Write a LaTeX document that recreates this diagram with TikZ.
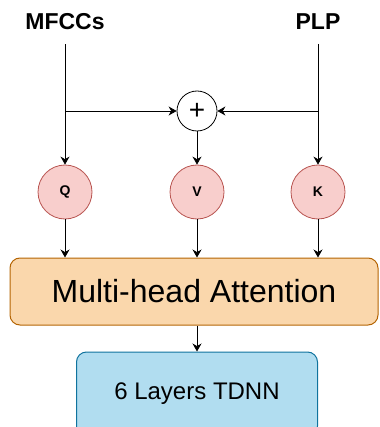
\documentclass[tikz,border=0pt]{standalone}
\usepackage{fontspec}
\setmainfont{Liberation Sans}
\usepackage{xcolor}
\usepackage{tikz}
\usetikzlibrary{positioning}
\usetikzlibrary{shapes,arrows.meta}
\definecolor{qkvfill}{HTML}{F8CECC}
\definecolor{qkvline}{HTML}{B85450}
\definecolor{attfill}{HTML}{FAD7AC}
\definecolor{attline}{HTML}{B46504}
\definecolor{tdnnfill}{HTML}{B1DDF0}
\definecolor{tdnnline}{HTML}{10739E}
\tikzstyle{inlabel} = [font=\bfseries\fontsize{23}{23}\selectfont, inner sep=0pt, outer ysep=14pt]
\tikzstyle{qkvnode} = [circle, draw=qkvline, fill=qkvfill, line width=0.8pt, minimum size=54pt, inner sep=0pt, font=\bfseries\fontsize{14}{14}\selectfont]
\tikzstyle{sumnode} = [circle, draw, line width=0.8pt, minimum size=40pt, inner sep=0pt, font=\fontsize{28}{28}\selectfont]
\tikzstyle{attbox} = [rectangle, rounded corners=10pt, draw=attline, fill=attfill, line width=1pt, minimum width=368pt, minimum height=67pt, font=\fontsize{32}{32}\selectfont]
\tikzstyle{tdnnbox} = [rectangle, rounded corners=10pt, draw=tdnnline, fill=tdnnfill, line width=1pt, minimum width=241pt, minimum height=84pt, font=\fontsize{24}{24}\selectfont]
\tikzstyle{flow} = [draw, line width=0.8pt, -{Stealth[length=8pt,width=9pt]}]

\begin{document}
\begin{tikzpicture}[x=1pt, y=-1pt]

\useasboundingbox (0,0) rectangle (379,427);

\node [inlabel] at (65,22) (mfcc) {MFCCs};
\node [inlabel] at (318,22) (plp) {PLP};

\node [sumnode] at (197,111) (plus) {+};
\coordinate (jm) at (65,111);
\coordinate (jp) at (318,111);

\node [qkvnode] at (65,192) (q) {Q};
\node [qkvnode] at (197,192) (v) {V};
\node [qkvnode] at (318,192) (k) {K};

\node [attbox] at (194,291.5) (mha) {Multi-head Attention};
\node [tdnnbox] at (197,394) (tdnn) {6 Layers TDNN};

\path [flow] (mfcc.south) to (q.north);
\path [flow] (plp.south) to (k.north);
\path [flow] (jm) to (plus);
\path [flow] (jp) to (plus);
\path [flow] (plus) to (v);

\path [flow] (q) to (q |- mha.north);
\path [flow] (v) to (v |- mha.north);
\path [flow] (k) to (k |- mha.north);

\path [flow] (tdnn |- mha.south) to (tdnn.north);

\end{tikzpicture}
\end{document}
